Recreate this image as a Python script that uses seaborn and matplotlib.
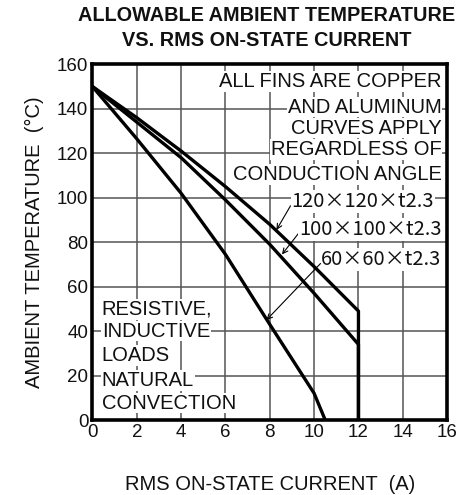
import matplotlib
matplotlib.use("Agg")
import matplotlib.pyplot as plt
import seaborn as sns
import pandas as pd

# Derating curves: allowable ambient temperature vs RMS on-state current
current_120 = [0, 2, 4, 6, 8, 10, 12, 12]
temp_120 = [150, 136, 121, 105, 88, 69, 49, 0]
current_100 = [0, 2, 4, 6, 8, 10, 12, 12]
temp_100 = [150, 134, 118, 99, 79, 57, 34, 0]
current_60 = [0, 2, 4, 6, 8, 10, 10.5]
temp_60 = [150, 126.5, 102, 74.5, 43, 12, 0]
fin_labels = ["120×120×t2.3", "100×100×t2.3", "60×60×t2.3"]
x_ticks = [0, 2, 4, 6, 8, 10, 12, 14, 16]
y_ticks = [0, 20, 40, 60, 80, 100, 120, 140, 160]
title_lines = ["ALLOWABLE AMBIENT TEMPERATURE", "VS. RMS ON-STATE CURRENT"]
note_lines = ["ALL FINS ARE COPPER", "AND ALUMINUM", "CURVES APPLY",
              "REGARDLESS OF", "CONDUCTION ANGLE"]
load_lines = ["RESISTIVE,", "INDUCTIVE", "LOADS", "NATURAL", "CONVECTION"]

sns.set_style("white")
plt.rcParams["font.family"] = ["Liberation Sans", "DejaVu Sans"]

frames = []
for lab, xs, ys in zip(fin_labels, [current_120, current_100, current_60],
                       [temp_120, temp_100, temp_60]):
    frames.append(pd.DataFrame({"current": xs, "temp": ys, "fin": lab}))
df = pd.concat(frames, ignore_index=True)

fig = plt.figure(figsize=(4.6, 4.95), dpi=100)
ax = fig.add_axes([0.201, 0.1515, 0.771, 0.7185])

sns.lineplot(data=df, x="current", y="temp", units="fin", estimator=None,
             sort=False, color="black", linewidth=2.4, ax=ax, zorder=4)

ax.set_xlim(0, 16)
ax.set_ylim(0, 160)
ax.set_xticks(x_ticks)
ax.set_yticks(y_ticks)
ax.tick_params(axis="both", length=0, labelsize=13.5, pad=3, colors="#111111")
ax.grid(True, color="#555555", linewidth=1.1)
ax.set_axisbelow(True)
for sp in ax.spines.values():
    sp.set_linewidth(2.6)
    sp.set_color("black")

ax.set_xlabel("RMS ON-STATE CURRENT  (A)", fontsize=14.5, labelpad=24, color="#111111")
ax.set_ylabel("AMBIENT TEMPERATURE  (°C)", fontsize=14.5, labelpad=9, color="#111111")

for txt, yf in zip(title_lines, [0.969, 0.918]):
    fig.text(0.58, yf, txt, ha="center", va="center", fontsize=14.3,
             fontweight="bold", color="#111111")

box = dict(facecolor="white", edgecolor="none", pad=0.6)

# Notes in the upper right
note_y = [152.3, 140.8, 131.3, 121.6, 110.4]
for txt, yv in zip(note_lines, note_y):
    ax.text(15.75, yv, txt, ha="right", va="center", fontsize=14.5,
            bbox=box, zorder=3, color="#111111")

# Fin-size labels with leader arrows
fin_text_pos = [(15.4, 98.4), (15.75, 85.7), (15.75, 72.2)]
fin_tips = [(8.3, 85.5), (8.55, 74.5), (7.85, 45)]
for lab, (tx, ty), tip in zip(fin_labels, fin_text_pos, fin_tips):
    ax.annotate(lab, xy=tip, xytext=(tx, ty), ha="right", va="center",
                fontsize=14.5, bbox=box, zorder=3, color="#111111",
                family=["Noto Sans CJK JP", "DejaVu Sans"],
                arrowprops=dict(arrowstyle="->", color="black", lw=0.8,
                                relpos=(0, 0.35), shrinkA=0, shrinkB=0,
                                mutation_scale=9))

# Load condition notes at lower left
load_y = [49.8, 40, 28.9, 17.9, 7.6]
for txt, yv in zip(load_lines, load_y):
    ax.text(0.42, yv, txt, ha="left", va="center", fontsize=14.5,
            bbox=box, zorder=3, color="#111111")

if ax.get_legend() is not None:
    ax.get_legend().remove()

fig.savefig("out.png", dpi=100)
